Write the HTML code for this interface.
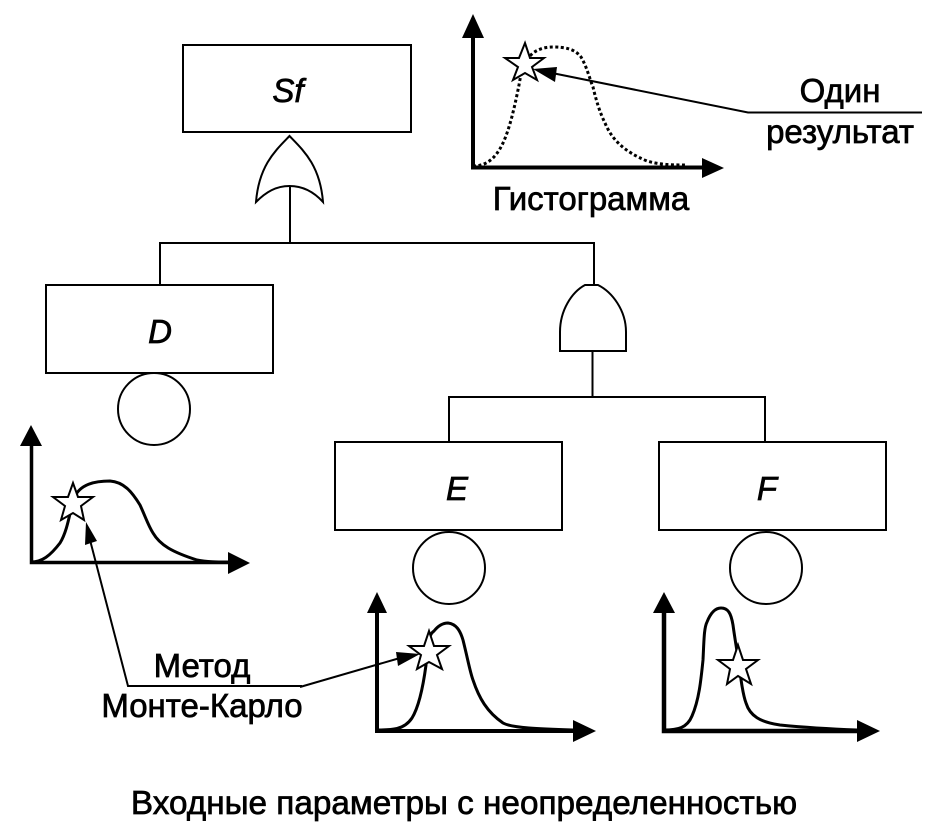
<!DOCTYPE html>
<html><head><meta charset="utf-8"><style>html,body{margin:0;padding:0;background:#fff}svg{display:block}text{font-family:"Liberation Sans",sans-serif;font-size:33px;fill:#000;stroke:#000;stroke-width:.7px}</style></head><body>
<svg width="934" height="834" viewBox="0 0 934 834" xmlns="http://www.w3.org/2000/svg">
<g fill="none" stroke="#000" stroke-width="2">
<rect x="183" y="45" width="228" height="87"/>
<rect x="46" y="285" width="227" height="88"/>
<rect x="335" y="442" width="227" height="88"/>
<rect x="659" y="442" width="227" height="88"/>
<path d="M289.500 136C276 150 259 165 256 202C266 192 276 186 289.500 186C303 186 314 192 323 202C320 165 303 150 289.500 136Z"/>
<path d="M290 186V243M160 285V243H594V285"/>
<path d="M560 351V332C560 310 572 292 585 285H598C612 292 626 310 626 332V351Z"/>
<path d="M592.500 351V397M449 442V397H765V442"/>
<circle cx="154" cy="409" r="36"/>
<circle cx="449" cy="568" r="36"/>
<circle cx="766" cy="568" r="36"/>
</g>
<g fill="none" stroke="#000" stroke-width="3">
<path d="M31 562C42 562 50 556 60 543C68 530 70 510 74 498C80 484 95 481 110 481C124 482 132 492 140 505C146 518 148 525 153 533C160 545 172 552 197 560C207 562 217 562 228 562"/>
<path d="M377 730C392 730 404 730 412 718C420 705 424 680 426 665C428 645 428 635 434 631C438 626 443 623 448 623C456 624 460 630 463 640C468 660 470 672 473 680C479 698 487 712 503 723C512 728 540 729 573 730"/>
<path d="M664 730C678 730 687 728 692 716C699 700 701 680 703 660C704 640 704 628 707 622C711 612 716 608 721 608C728 608 731 613 733 625C735 640 737 650 739 665C741 680 743 695 746 703C750 716 760 722 780 725C800 727 830 729 857 730"/>
<path d="M473 166C485 166 495 160 503 143C510 128 515 105 519 85C521 72 525 60 533 53C540 48 547 47 553 47C565 47 575 49 581 57C587 67 590 80 593 87C596 100 600 113 605 123C612 140 625 152 647 161C660 165 675 165 687 165" stroke-dasharray="3 2.500"/>
</g>
<g fill="none" stroke="#000">
<path d="M473 30V167.500H704" stroke-width="4"/>
<path d="M31.500 440V562.500H230" stroke-width="3.500"/>
<path d="M377 608V731H575" stroke-width="4"/>
<path d="M664 608V731H859" stroke-width="4.500"/>
</g>
<g fill="#000" stroke="none">
<path d="M473 14L462 38H484Z"/>
<path d="M724 168L702 158V178Z"/>
<path d="M31 425L20 446H42Z"/>
<path d="M250 563L228 552V574Z"/>
<path d="M377 592L367 613H387Z"/>
<path d="M596 731L573 720V742Z"/>
<path d="M664 592L653 613H675Z"/>
<path d="M880 731L857 720V742Z"/>
</g>
<g fill="#fff" stroke="#000" stroke-width="2">
<path d="M525 43L530 58L544 58L532 67L537 80L525 73L513 80L518 67L505 58L519 58Z"/>
<path d="M73 483L78 497L93 497L81 506L84 520L73 513L61 520L65 506L53 497L68 497Z"/>
<path d="M429 631L434 646L449 646L437 655L442 669L429 662L417 669L421 655L409 646L424 646Z"/>
<path d="M738 645L743 660L758 660L746 669L751 684L738 676L727 684L730 669L718 660L733 660Z"/>
</g>
<g fill="none" stroke="#000" stroke-width="2">
<path d="M922 112.500H748L552 73"/>
<path d="M302 686H128L90 540"/>
<path d="M300 687L400 658"/>
</g>
<g fill="#000">
<path d="M533 69L557 67L555 82Z"/>
<path d="M86 522L85 545L97 541Z"/>
<path d="M420 654L396 652L398 666Z"/>
</g>
<g text-anchor="middle">
<text x="288" y="102" font-style="italic">Sf</text>
<text x="160" y="343" font-style="italic">D</text>
<text x="457" y="500" font-style="italic">E</text>
<text x="767" y="500" font-style="italic">F</text>
<text x="840" y="102">Один</text>
<text x="840" y="143">результат</text>
<text x="591" y="210">Гистограмма</text>
<text x="202" y="677">Метод</text>
<text x="202" y="717">Монте-Карло</text>
<text x="464" y="814" style="font-size:33.300px">Входные параметры с неопределенностью</text>
</g>
</svg>
</body></html>
